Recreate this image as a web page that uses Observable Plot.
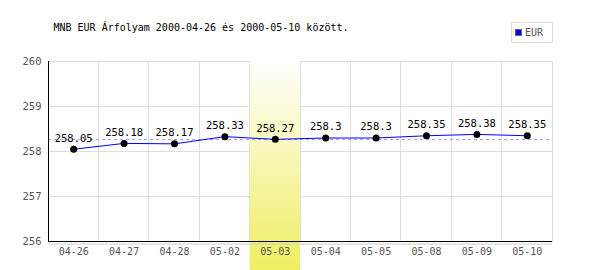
<!DOCTYPE html>
<html><head><meta charset="utf-8">
<script src="https://cdn.jsdelivr.net/npm/d3@7"></script>
<script src="https://cdn.jsdelivr.net/npm/@observablehq/plot@0.6"></script>
<style>body{margin:0;background:#fff}</style>
</head><body><div id="chart"></div>
<script>
const dates = ["04-26","04-27","04-28","05-02","05-03","05-04","05-05","05-08","05-09","05-10"];
const rates = [258.05,258.18,258.17,258.33,258.27,258.3,258.3,258.35,258.38,258.35];
const valueLabels = ["258.05","258.18","258.17","258.33","258.27","258.3","258.3","258.35","258.38","258.35"];
const yTicks = [256,257,258,259,260];
const highlighted = ["05-03"];
const title = "MNB EUR Árfolyam 2000-04-26 és 2000-05-10 között.";
const seriesName = "EUR";

const data = dates.map((d,i)=>({date:d, rate:rates[i], label:valueLabels[i]}));
const mean = d3.mean(rates);

const chart = Plot.plot({
  width: 600, height: 270,
  marginLeft: 48, marginRight: 48, marginTop: 61, marginBottom: 29,
  style: {fontFamily: "DejaVu Sans Mono", fontSize: "10px", background: "#fff"},
  x: {type: "band", domain: dates, padding: 0, round: false},
  y: {domain: [256, 260]},
  marks: [
    Plot.ruleY(yTicks, {stroke: "#dddddd", strokeWidth: 1, shapeRendering: "crispEdges"}),
    Plot.barY(dates, {x: d=>d, y1: 256, y2: 260, fill: "none", stroke: "#dddddd", inset: 0, shapeRendering: "crispEdges"}),
    Plot.barY(highlighted, {x: d=>d, y1: 255.3, y2: 260.05, fill: "url(#hl)", inset: 0}),
    Plot.ruleY([mean], {stroke: "#9999ff", strokeDasharray: "3,3"}),
    Plot.ruleY([256], {stroke: "#cccccc", dy: 2.5}),
    Plot.ruleY([256], {stroke: "black"}),
    Plot.axisX({tickSize: 0, tickPadding: 6, fill: "#555", fontSize: 10, label: null}),
    Plot.axisY({ticks: yTicks, tickFormat: d3.format("d"), tickSize: 0, tickPadding: 7, fill: "#555", fontSize: 10.5, label: null}),
    Plot.line(data, {x: "date", y: "rate", stroke: "#0000ff", strokeWidth: 1}),
    Plot.dot(data, {x: "date", y: "rate", r: 3.5, fill: "black"}),
    Plot.text(data, {x: "date", y: "rate", text: "label", dy: -11, fill: "black", fontSize: 10.5}),
    Plot.text([title], {frameAnchor: "top-left", text: d=>d, dx: 5, dy: -34, lineAnchor: "middle", fill: "black", fontSize: 10})
  ]
});

const svg = d3.select(chart);
const defs = svg.insert("defs", ":first-child");
const g = defs.append("linearGradient").attr("id","hl").attr("x1",0).attr("y1",0).attr("x2",0).attr("y2",1);
g.append("stop").attr("offset","0%").attr("stop-color","#ffffff");
g.append("stop").attr("offset","100%").attr("stop-color","#eeee60");

// left axis line
svg.append("line").attr("x1",48.5).attr("x2",48.5).attr("y1",61).attr("y2",241).attr("stroke","black");

// legend
const lg = svg.append("g").attr("text-anchor","start");
lg.append("rect").attr("x",511.5).attr("y",22.5).attr("width",41).attr("height",20).attr("fill","white").attr("stroke","#dddddd");
lg.append("rect").attr("x",515.5).attr("y",29.5).attr("width",6).attr("height",6).attr("fill","#0000ff").attr("stroke","#666");
lg.append("text").attr("x",525).attr("y",36).attr("fill","#555").attr("font-size",10).attr("text-anchor","start").text(seriesName);

document.getElementById("chart").appendChild(chart);
</script></body></html>
